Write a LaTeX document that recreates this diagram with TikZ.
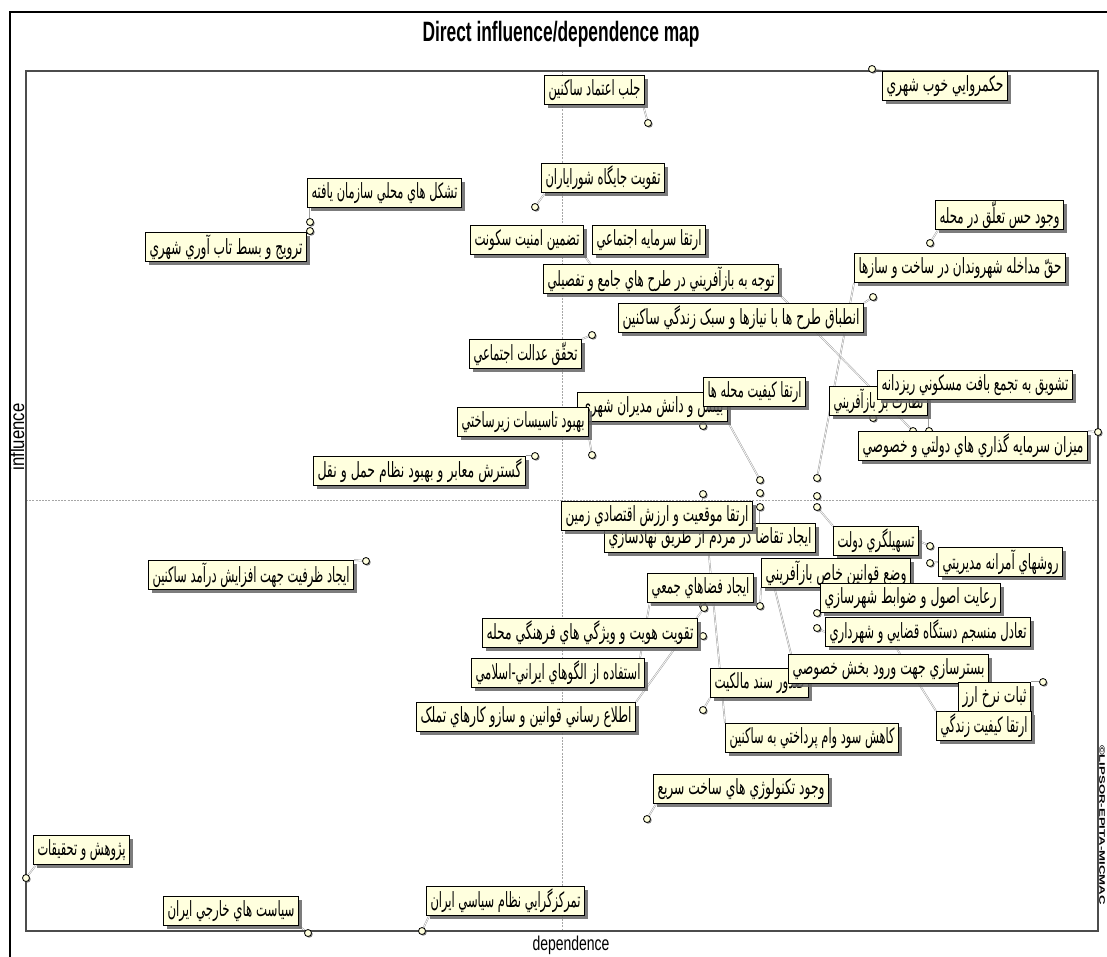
\documentclass[tikz,border=0pt]{standalone}
\usepackage{fontspec}
\usepackage{graphicx}
\setmainfont{Liberation Sans}
\newfontfamily\fa[Script=Arabic]{DejaVu Sans}
\TeXXeTstate=1
\usetikzlibrary{shadows}
\definecolor{boxfill}{RGB}{255,255,222}
\pgfdeclarelayer{bglayer}
\pgfdeclarelayer{connlayer}
\pgfsetlayers{bglayer,connlayer,main}
\newcommand{\fat}[2]{\resizebox{#1pt}{\height}{\fontsize{21}{21}\fa #2}}
\begin{document}
\begin{tikzpicture}[x=1pt,y=-1pt,
  lab/.style={draw=black, line width=1pt, fill=boxfill, inner sep=0pt, minimum height=29pt, anchor=west,
    drop shadow={shadow xshift=3pt, shadow yshift=-3pt, fill=black!60, opacity=0.85}},
  pnt/.style={circle, draw=black, line width=0.8pt, fill=boxfill, inner sep=0pt, minimum size=7pt,
    drop shadow={shadow xshift=1.2pt, shadow yshift=-1.2pt, fill=black!60, opacity=0.8}},
  conn/.style={draw=gray!75, line width=0.5pt, double=white, double distance=0.7pt},
  axis/.style={draw=gray!70, line width=0.6pt, dash pattern=on 2pt off 1.2pt},
  frame/.style={draw=black!70, line width=1.6pt}]
\useasboundingbox (0,0) rectangle (1107,956);
\begin{pgfonlayer}{bglayer}
\fill[white] (0,0) rectangle (1107,956);
\end{pgfonlayer}
% outer frame
\draw[line width=2.5pt] (10,12) rectangle (1140,990);
% title and axes labels
\node (title) at (561,34) {\resizebox{277pt}{\height}{\fontsize{28}{28}\selectfont\bfseries Direct influence/dependence map}};
\node[rotate=90] (infl) at (17,437) {\resizebox{67pt}{\height}{\fontsize{20}{20}\selectfont influence}};
\node (dep) at (571,945) {\resizebox{77pt}{\height}{\fontsize{20}{20}\selectfont dependence}};
\node[rotate=-90] (copy) at (1102,825) {\resizebox{160pt}{\height}{\fontsize{8}{8}\selectfont\bfseries ©LIPSOR-EPITA-MICMAC}};
% plot frame and axes
\coordinate (fa) at (26,71);
\coordinate (fb) at (1098,931);
\draw[axis] (562,71) -- (562,931);
\draw[axis] (26,500) -- (1098,500);
\draw[frame] (fa) rectangle (fb);
% points
\node[pnt] (p1) at (872,69) {};
\node[pnt] (p2) at (648,123) {};
\node[pnt] (p3) at (535,207) {};
\node[pnt] (p4) at (310,222) {};
\node[pnt] (p5) at (310,231) {};
\node[pnt] (p6) at (596,272) {};
\node[pnt] (p7) at (650,246) {};
\node[pnt] (p8) at (913,431) {};
\node[pnt] (p9) at (930,243) {};
\node[pnt] (p10) at (817,478) {};
\node[pnt] (p11) at (873,297) {};
\node[pnt] (p12) at (592,335) {};
\node[pnt] (p13) at (703,426) {};
\node[pnt] (p14) at (760,480) {};
\node[pnt] (p15) at (592,455) {};
\node[pnt] (p16) at (535,456) {};
\node[pnt] (p17) at (929,431) {};
\node[pnt] (p18) at (873,418) {};
\node[pnt] (p19) at (1098,432) {};
\node[pnt] (p20) at (703,494) {};
\node[pnt] (p21) at (760,507) {};
\node[pnt] (p22) at (817,507) {};
\node[pnt] (p23) at (930,563) {};
\node[pnt] (p24) at (760,606) {};
\node[pnt] (p25) at (817,613) {};
\node[pnt] (p26) at (817,628) {};
\node[pnt] (p27) at (772,578) {};
\node[pnt] (p28) at (1043,682) {};
\node[pnt] (p29) at (885,630) {};
\node[pnt] (p30) at (708,546) {};
\node[pnt] (p31) at (703,710) {};
\node[pnt] (p32) at (703,606) {};
\node[pnt] (p33) at (703,636) {};
\node[pnt] (p34) at (652,590) {};
\node[pnt] (p35) at (704,608) {};
\node[pnt] (p36) at (366,561) {};
\node[pnt] (p37) at (647,819) {};
\node[pnt] (p38) at (422,931) {};
\node[pnt] (p39) at (308,933) {};
\node[pnt] (p40) at (26,878) {};
\node[pnt] (e1) at (760,493) {};
\node[pnt] (e2) at (817,496) {};
\node[pnt] (e3) at (930,546) {};
% labels (covered ones first)
\node[lab, minimum width=125pt] (n1) at (882,86) {\fat{117}{\beginR حکمروايي خوب شهري\endR}};
\node[lab, minimum width=100pt] (n2) at (544,90) {\fat{92}{\beginR جلب اعتماد ساکنين\endR}};
\node[lab, minimum width=123pt] (n3) at (541,178) {\fat{115}{\beginR تقويت جايگاه شوراياران\endR}};
\node[lab, minimum width=154pt] (n4) at (307,193) {\fat{146}{\beginR تشکل هاي محلي سازمان يافته\endR}};
\node[lab, minimum width=161pt] (n5) at (145,247) {\fat{153}{\beginR ترويج و بسط تاب آوري شهري\endR}};
\node[lab, minimum width=113pt] (n6) at (470,240) {\fat{105}{\beginR تضمين امنيت سکونت\endR}};
\node[lab, minimum width=113pt] (n7) at (592,240) {\fat{105}{\beginR ارتقا سرمايه اجتماعي\endR}};
\node[lab, minimum width=235pt] (n8) at (543,279) {\fat{227}{\beginR توجه به بازآفريني در طرح هاي جامع و تفصيلي\endR}};
\node[lab, minimum width=128pt] (n9) at (935,215) {\fat{120}{\beginR وجود حس تعلّق در محله\endR}};
\node[lab, minimum width=211pt] (n10) at (854,268) {\fat{203}{\beginR حقّ مداخله شهروندان در ساخت و سازها\endR}};
\node[lab, minimum width=245pt] (n11) at (618,318) {\fat{237}{\beginR انطباق طرح ها با نيازها و سبک  زندگي ساکنين\endR}};
\node[lab, minimum width=112pt] (n12) at (469,354) {\fat{104}{\beginR تحقّق عدالت اجتماعي\endR}};
\node[lab, minimum width=150pt] (n14) at (577,407) {\fat{142}{\beginR بينش و دانش مديران شهري\endR}};
\node[lab, minimum width=102pt] (n13) at (703,392) {\fat{94}{\beginR ارتقا کيفيت محله ها\endR}};
\node[lab, minimum width=131pt] (n15) at (457,422) {\fat{123}{\beginR بهبود تاسيسات زيرساختي\endR}};
\node[lab, minimum width=212pt] (n16) at (313,471) {\fat{204}{\beginR گسترش معابر  و بهبود نظام حمل و نقل\endR}};
\node[lab, minimum width=98pt] (n18) at (829,401) {\fat{90}{\beginR نظارت بر بازآفريني\endR}};
\node[lab, minimum width=195pt] (n17) at (877,385) {\fat{187}{\beginR تشويق به تجمع بافت مسکوني ريزدانه\endR}};
\node[lab, minimum width=229pt] (n19) at (858,446) {\fat{221}{\beginR ميزان سرمايه گذاري هاي دولتي و خصوصي\endR}};
\node[lab, minimum width=211pt] (n21) at (604,538) {\fat{203}{\beginR ايجاد تقاضا در مردم از طريق نهادسازي\endR}};
\node[lab, minimum width=191pt] (n20) at (561,516) {\fat{183}{\beginR ارتقا موقعيت و ارزش اقتصادي زمين\endR}};
\node[lab, minimum width=85pt] (n22) at (833,541) {\fat{77}{\beginR تسهيلگري دولت\endR}};
\node[lab, minimum width=124pt] (n23) at (938,562) {\fat{116}{\beginR روشهاي آمرانه مديريتي\endR}};
\node[lab, minimum width=149pt] (n24) at (761,573) {\fat{141}{\beginR وضع قوانين خاص بازآفريني\endR}};
\node[lab, minimum width=180pt] (n25) at (820,598) {\fat{172}{\beginR رعايت اصول و ضوابط شهرسازي\endR}};
\node[lab, minimum width=205pt] (n26) at (825,632) {\fat{197}{\beginR تعادل منسجم دستگاه قضايي و شهرداري\endR}};
\node[lab, minimum width=98pt] (n31) at (710,683) {\fat{90}{\beginR صدور سند مالکيت\endR}};
\node[lab, minimum width=200pt] (n27) at (788,669) {\fat{192}{\beginR بسترسازي جهت ورود بخش خصوصي\endR}};
\node[lab, minimum width=72pt] (n28) at (958,697) {\fat{64}{\beginR ثبات نرخ ارز\endR}};
\node[lab, minimum width=95pt] (n29) at (936,726) {\fat{87}{\beginR ارتقا کيفيت زندگي\endR}};
\node[lab, minimum width=173pt] (n30) at (725,738) {\fat{165}{\beginR کاهش سود وام پرداختي به ساکنين\endR}};
\node[lab, minimum width=106pt] (n32) at (647,588) {\fat{98}{\beginR ايجاد فضاهاي جمعي\endR}};
\node[lab, minimum width=215pt] (n33) at (482,633) {\fat{207}{\beginR تقويت هويت و ويژگي هاي  فرهنگي محله\endR}};
\node[lab, minimum width=173pt] (n34) at (471,673) {\fat{165}{\beginR استفاده از الگوهاي ايراني-اسلامي\endR}};
\node[lab, minimum width=219pt] (n35) at (416,717) {\fat{211}{\beginR اطلاع رساني قوانين و سازو کارهاي تملک\endR}};
\node[lab, minimum width=205pt] (n36) at (148,575) {\fat{197}{\beginR ايجاد ظرفيت جهت افزايش درآمد ساکنين\endR}};
\node[lab, minimum width=175pt] (n37) at (653,789) {\fat{167}{\beginR وجود تکنولوژي هاي ساخت سريع\endR}};
\node[lab, minimum width=158pt] (n38) at (426,901) {\fat{150}{\beginR تمرکزگرايي نظام سياسي ايران\endR}};
\node[lab, minimum width=135pt] (n39) at (163,911) {\fat{127}{\beginR سياست هاي خارجي ايران\endR}};
\node[lab, minimum width=96pt] (n40) at (33,850) {\fat{88}{\beginR پژوهش و تحقيقات\endR}};
% connectors, drawn behind points and labels
\begin{pgfonlayer}{connlayer}
\draw[conn] (p1) -- (n1.north west);
\draw[conn] (p2) -- ([xshift=-2pt]n2.south east);
\draw[conn] (p3) -- ([xshift=4pt]n3.south west);
\draw[conn] (p4) -- ([xshift=3pt]n4.south west);
\draw[conn] (p5) -- (n5.north east);
\draw[conn] (p6) -- (n6.south east);
\draw[conn] (p8) -- (n8.south east);
\draw[conn] (p9) -- ([xshift=3pt]n9.south west);
\draw[conn] (p10) -- (n10.south west);
\draw[conn] (p11) -- (n11.north east);
\draw[conn] (p12) -- (n12.north east);
\draw[conn] (p13) -- (n13.south west);
\draw[conn] (p14) -- (n14.south east);
\draw[conn] (p15) -- (n15.south east);
\draw[conn] (p16) -- (n16.north east);
\draw[conn] (p17) -- ([xshift=52pt]n17.south west);
\draw[conn] (p18) -- ([xshift=44pt]n18.south west);
\draw[conn] (p19) -- (n19.north east);
\draw[conn] (p20) -- ([xshift=142pt]n20.north west);
\draw[conn] (p21) -- ([xshift=156pt]n21.north west);
\draw[conn] (p22) -- (n22.north west);
\draw[conn] (p23) -- (n23.west);
\draw[conn] (p24) -- (n24.south west);
\draw[conn] (p25) -- (n25.south west);
\draw[conn] (p26) -- (n26.west);
\draw[conn] (p27) -- ([xshift=3pt]n27.north west);
\draw[conn] (p28) -- (n28.north east);
\draw[conn] (p29) -- (n29.north west);
\draw[conn] (p30) -- (n30.north west);
\draw[conn] (p31) -- (n31.south west);
\draw[conn] (p32) -- ([xshift=56pt]n32.south west);
\draw[conn] (p33) -- (n33.east);
\draw[conn] (p34) -- ([xshift=169pt]n34.north west);
\draw[conn] (p35) -- (n35.north east);
\draw[conn] (p36) -- (n36.north east);
\draw[conn] (p37) -- ([xshift=3pt]n37.south west);
\draw[conn] (p38) -- ([xshift=3pt]n38.south west);
\draw[conn] (p39) -- (n39.south east);
\draw[conn] (p40) -- ([xshift=3pt]n40.south west);
\draw[conn] (e3) -- (n22.east);
\end{pgfonlayer}
\end{tikzpicture}
\end{document}
